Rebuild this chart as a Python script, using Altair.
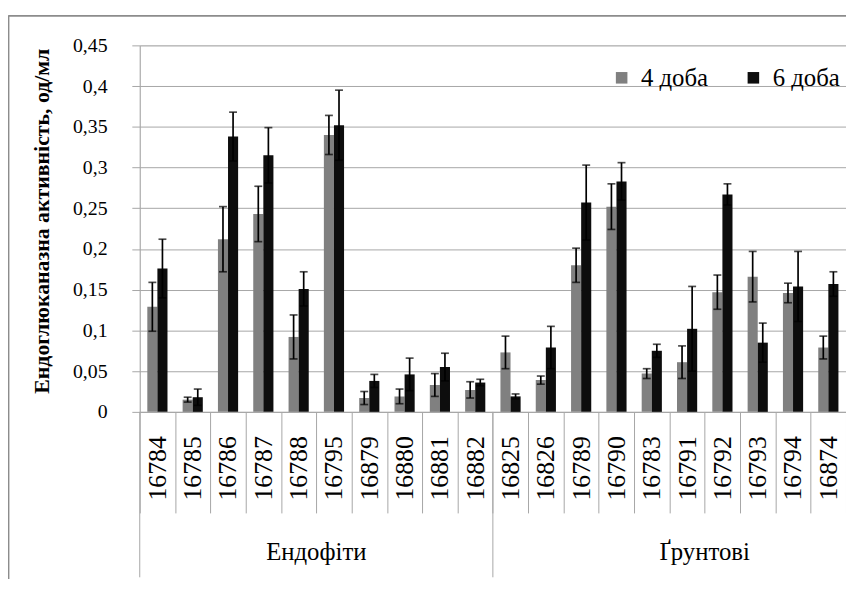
import altair as alt
import pandas as pd

strains = ["16784", "16785", "16786", "16787", "16788", "16795", "16879", "16880", "16881", "16882",
           "16825", "16826", "16789", "16790", "16783", "16791", "16792", "16793", "16794", "16874"]
groups = ["Ендофіти"] * 10 + ["Ґрунтові"] * 10
series = ["4 доба", "6 доба"]
day4 = [0.129, 0.015, 0.212, 0.243, 0.092, 0.340, 0.017, 0.019, 0.033, 0.027,
        0.073, 0.039, 0.180, 0.252, 0.047, 0.061, 0.147, 0.166, 0.146, 0.079]
err4 = [0.030, 0.003, 0.040, 0.034, 0.027, 0.024, 0.008, 0.009, 0.014, 0.010,
        0.020, 0.005, 0.021, 0.028, 0.006, 0.020, 0.021, 0.031, 0.012, 0.014]
day6 = [0.176, 0.018, 0.338, 0.315, 0.151, 0.352, 0.038, 0.046, 0.055, 0.036,
        0.019, 0.079, 0.257, 0.283, 0.075, 0.102, 0.267, 0.085, 0.154, 0.157]
err6 = [0.036, 0.010, 0.030, 0.034, 0.021, 0.043, 0.008, 0.020, 0.017, 0.004,
        0.003, 0.026, 0.046, 0.023, 0.008, 0.052, 0.013, 0.024, 0.043, 0.015]
y_ticks = [0, 0.05, 0.1, 0.15, 0.2, 0.25, 0.3, 0.35, 0.4, 0.45]
group_names = ["Ендофіти", "Ґрунтові"]
group_first = ["16784", "16825"]
group_mid = ["16795", "16792"]
y_title = "Ендоглюканазна активність, од/мл"

rows = []
for i, s in enumerate(strains):
    for name, vals, errs in ((series[0], day4, err4), (series[1], day6, err6)):
        rows.append({"strain": s, "group": groups[i], "series": name, "value": vals[i],
                     "lo": vals[i] - errs[i], "hi": vals[i] + errs[i]})
df = pd.DataFrame(rows)
gdf = pd.DataFrame({"group": group_names, "first": group_first, "mid": group_mid})

FONT = "Liberation Serif"
GRID = "#a6a6a6"
W, H = 713, 370

x_scale = alt.Scale(domain=strains, paddingInner=0, paddingOuter=0)
x_enc = alt.X("strain:N", scale=x_scale, title=None,
              axis=alt.Axis(labelAngle=270, labelFont=FONT, labelFontSize=26, labelColor="#000000",
                            tickBand="extent", tickSize=102, tickColor=GRID, tickWidth=1,
                            domainColor=GRID, labelPadding=-78, grid=False))
xo = alt.XOffset("series:N", scale=alt.Scale(domain=series, paddingInner=0, paddingOuter=0.75))
y_scale = alt.Scale(domain=[0, 0.45], nice=False)

base = alt.Chart(df)

bars = base.mark_bar().encode(
    x=x_enc,
    xOffset=xo,
    y=alt.Y("value:Q", scale=y_scale, title=y_title,
            axis=alt.Axis(values=y_ticks, labelExpr="replace(format(datum.value, '~g'), '.', ',')",
                          labelFont=FONT, labelFontSize=20, labelColor="#000000", labelPadding=25,
                          tickSize=8, tickColor=GRID, domainColor=GRID, gridColor=GRID,
                          titleFont=FONT, titleFontSize=22, titleFontWeight="bold", titleColor="#000000",
                          titleX=-99, titleY=177, titleAngle=270, titleBaseline="middle", titleAlign="center")),
    color=alt.Color("series:N",
                    scale=alt.Scale(domain=series, range=["#808080", "#0d0d0d"]),
                    legend=alt.Legend(title=None, orient="none", legendX=474, legendY=20,
                                      direction="horizontal", symbolType="square", symbolSize=136,
                                      symbolStrokeWidth=0, labelFont=FONT, labelFontSize=25,
                                      labelColor="#000000", labelOffset=7, columnPadding=33, padding=0)),
)

err_rule = base.mark_rule(color="#000000", strokeWidth=1.7).encode(
    x=alt.X("strain:N", scale=x_scale), xOffset=xo,
    y=alt.Y("lo:Q", scale=y_scale), y2="hi:Q")
cap_lo = base.mark_tick(color="#000000", size=8, thickness=1.7).encode(
    x=alt.X("strain:N", scale=x_scale), xOffset=xo, y=alt.Y("lo:Q", scale=y_scale))
cap_hi = base.mark_tick(color="#000000", size=8, thickness=1.7).encode(
    x=alt.X("strain:N", scale=x_scale), xOffset=xo, y=alt.Y("hi:Q", scale=y_scale))

gchart = alt.Chart(gdf)
group_lines = gchart.mark_rule(color=GRID, strokeWidth=1).encode(
    x=alt.X("first:N", scale=x_scale, bandPosition=0),
    y=alt.value(H), y2=alt.value(H + 167))
group_text = gchart.mark_text(font=FONT, fontSize=25, color="#000000", baseline="middle", align="center").encode(
    x=alt.X("mid:N", scale=x_scale, bandPosition=0),
    y=alt.value(H + 142), text="group:N")

frame_top = alt.Chart(gdf).mark_rule(color="#8c8c8c", strokeWidth=1.5).encode(
    x=alt.value(-132.5), x2=alt.value(W), y=alt.value(-30))
frame_left = alt.Chart(gdf).mark_rule(color="#8c8c8c", strokeWidth=1.5).encode(
    x=alt.value(-132.5), y=alt.value(-30), y2=alt.value(H + 200))

chart = alt.layer(bars, err_rule, cap_lo, cap_hi, group_lines, group_text, frame_top, frame_left).properties(
    width=W, height=H,
    autosize=alt.AutoSizeParams(type="none"),
    padding={"left": 133, "top": 35, "right": 0, "bottom": 166},
).configure_view(stroke=None).configure(background="#ffffff", font=FONT)

chart.save("out.html", embed_options={"renderer": "svg", "actions": False})
